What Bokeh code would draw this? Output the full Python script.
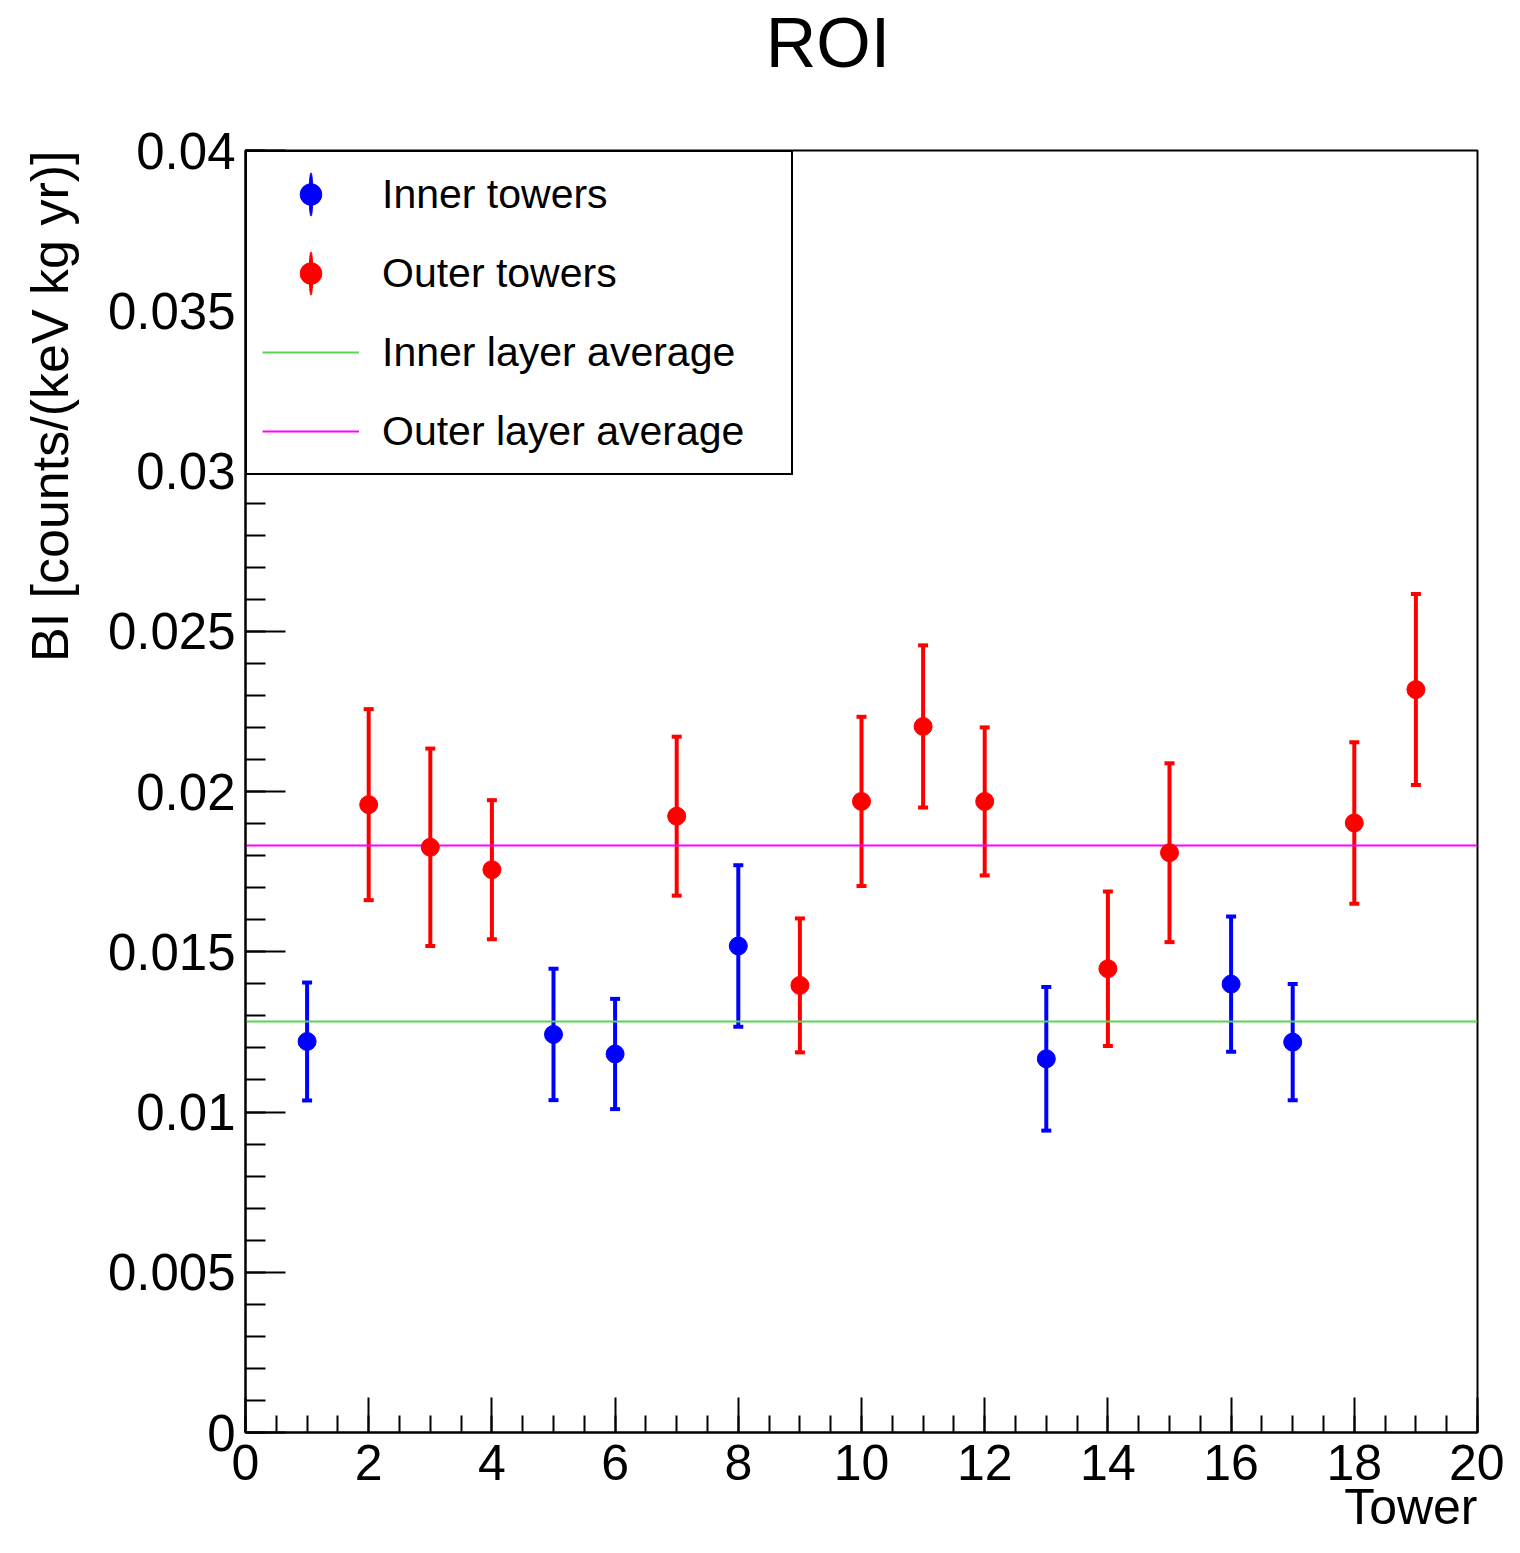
import numpy as np
from bokeh.plotting import figure
from bokeh.models import (Range1d, SingleIntervalTicker, CustomJSTickFormatter, Whisker,
                          ColumnDataSource, Legend, LegendItem, Label, TeeHead)
from bokeh.embed import file_html
from bokeh.resources import INLINE

# ---------------- data ----------------
TITLE = "ROI"
X_LABEL = "Tower"
Y_LABEL = "BI [counts/(keV kg yr)]"
X_MIN, X_MAX = 0, 20
Y_MIN, Y_MAX = 0.0, 0.04

inner_tower = [1, 5, 6, 8, 13, 16, 17]
inner_bi = [0.01220, 0.01242, 0.01181, 0.01518, 0.01166, 0.01399, 0.01218]
inner_err = [0.00184, 0.00205, 0.00172, 0.00252, 0.00224, 0.00211, 0.00181]

outer_tower = [2, 3, 4, 7, 9, 10, 11, 12, 14, 15, 18, 19]
outer_bi = [0.01959, 0.01826, 0.01756, 0.01923, 0.01395, 0.01969,
            0.02203, 0.01969, 0.01447, 0.01809, 0.01902, 0.02318]
outer_err = [0.00298, 0.00308, 0.00217, 0.00248, 0.00209, 0.00264,
             0.00253, 0.00231, 0.00241, 0.00279, 0.00252, 0.00298]

inner_avg = [0.01282]
outer_avg = [0.01833]

legend_labels = ["Inner towers", "Outer towers", "Inner layer average", "Outer layer average"]

# ---------------- style ----------------
FONT = "Liberation Sans"
C_IN = "#0000ff"
C_OUT = "#ff0000"
C_IN_AVG = "#59d454"
C_OUT_AVG = "#ff00ff"

p = figure(width=1504, height=1537,
           x_range=Range1d(X_MIN, X_MAX), y_range=Range1d(Y_MIN, Y_MAX),
           output_backend="svg", toolbar_location=None,
           min_border_left=245, min_border_right=27,
           min_border_top=150, min_border_bottom=105)
p.xgrid.visible = False
p.ygrid.visible = False
p.outline_line_color = "black"
p.outline_line_width = 2
p.background_fill_color = "white"
p.border_fill_color = "white"

xa = p.xaxis[0]
xa.ticker = SingleIntervalTicker(interval=2, num_minor_ticks=4)
xa.major_tick_in = 35
xa.major_tick_out = 0
xa.minor_tick_in = 17
xa.minor_tick_out = 0
xa.axis_line_width = 2
xa.major_tick_line_width = 2
xa.minor_tick_line_width = 2
xa.major_label_text_font = FONT
xa.major_label_text_font_size = "50px"
xa.major_label_text_color = "black"
xa.major_label_standoff = 12

ya = p.yaxis[0]
ya.ticker = SingleIntervalTicker(interval=0.005, num_minor_ticks=5)
ya.formatter = CustomJSTickFormatter(code="return parseFloat(tick.toPrecision(6)).toString();")
ya.major_tick_in = 40
ya.major_tick_out = 0
ya.minor_tick_in = 20
ya.minor_tick_out = 0
ya.axis_line_width = 2
ya.major_tick_line_width = 2
ya.minor_tick_line_width = 2
ya.major_label_text_font = FONT
ya.major_label_text_font_size = "51px"
ya.major_label_text_color = "black"
ya.major_label_standoff = 10

# ---------------- averages ----------------
r_in_avg = p.hspan(y=inner_avg, line_color=C_IN_AVG, line_width=2)
r_out_avg = p.hspan(y=outer_avg, line_color=C_OUT_AVG, line_width=2)

# ---------------- towers ----------------
def add_series(xs, ys, errs, color):
    ys = np.array(ys)
    errs = np.array(errs)
    src = ColumnDataSource(dict(x=xs, y=ys, lo=ys - errs, hi=ys + errs))
    w = Whisker(source=src, base="x", upper="hi", lower="lo",
                line_color=color, line_width=4,
                upper_head=TeeHead(size=10, line_color=color, line_width=4),
                lower_head=TeeHead(size=10, line_color=color, line_width=4))
    p.add_layout(w)
    # thin vertical ellipse hidden under each marker: gives the legend its error-bar sample
    bar = p.ellipse(x="x", y="y", source=src, width=1, height=12,
                    width_units="screen", height_units="screen",
                    fill_color=color, line_color=color, line_width=1)
    sc = p.scatter("x", "y", source=src, size=18, color=color)
    return sc, bar

sc_in, bar_in = add_series(inner_tower, inner_bi, inner_err, C_IN)
sc_out, bar_out = add_series(outer_tower, outer_bi, outer_err, C_OUT)

legend = Legend(items=[
    LegendItem(label=legend_labels[0], renderers=[bar_in, sc_in]),
    LegendItem(label=legend_labels[1], renderers=[bar_out, sc_out]),
    LegendItem(label=legend_labels[2], renderers=[r_in_avg]),
    LegendItem(label=legend_labels[3], renderers=[r_out_avg]),
], location="top_left", margin=0, padding=15, spacing=25,
    glyph_height=54, glyph_width=97, label_standoff=23, label_width=394, label_height=48,
    label_text_font=FONT, label_text_font_size="41px", label_text_color="black",
    border_line_color="black", border_line_width=2, border_line_alpha=1.0,
    background_fill_color="white", background_fill_alpha=1.0)
p.add_layout(legend)

# ---------------- texts (in side panels so that they are not clipped to the frame) ----------------
p.add_layout(Label(x=9.456, y=0.04336, text=TITLE, text_align="center",
                   text_baseline="middle", text_font=FONT, text_font_size="70px",
                   text_color="black"), "above")
p.add_layout(Label(x=X_MAX, y=-0.00234, text=X_LABEL, text_align="right",
                   text_baseline="middle", text_font=FONT, text_font_size="50px",
                   text_color="black"), "above")
p.add_layout(Label(x=-3.166, y=Y_MAX, text=Y_LABEL, angle=np.pi / 2, text_align="right",
                   text_baseline="middle", text_font=FONT, text_font_size="52px",
                   text_color="black"), "left")

open("out.html", "w").write(file_html(p, INLINE))
